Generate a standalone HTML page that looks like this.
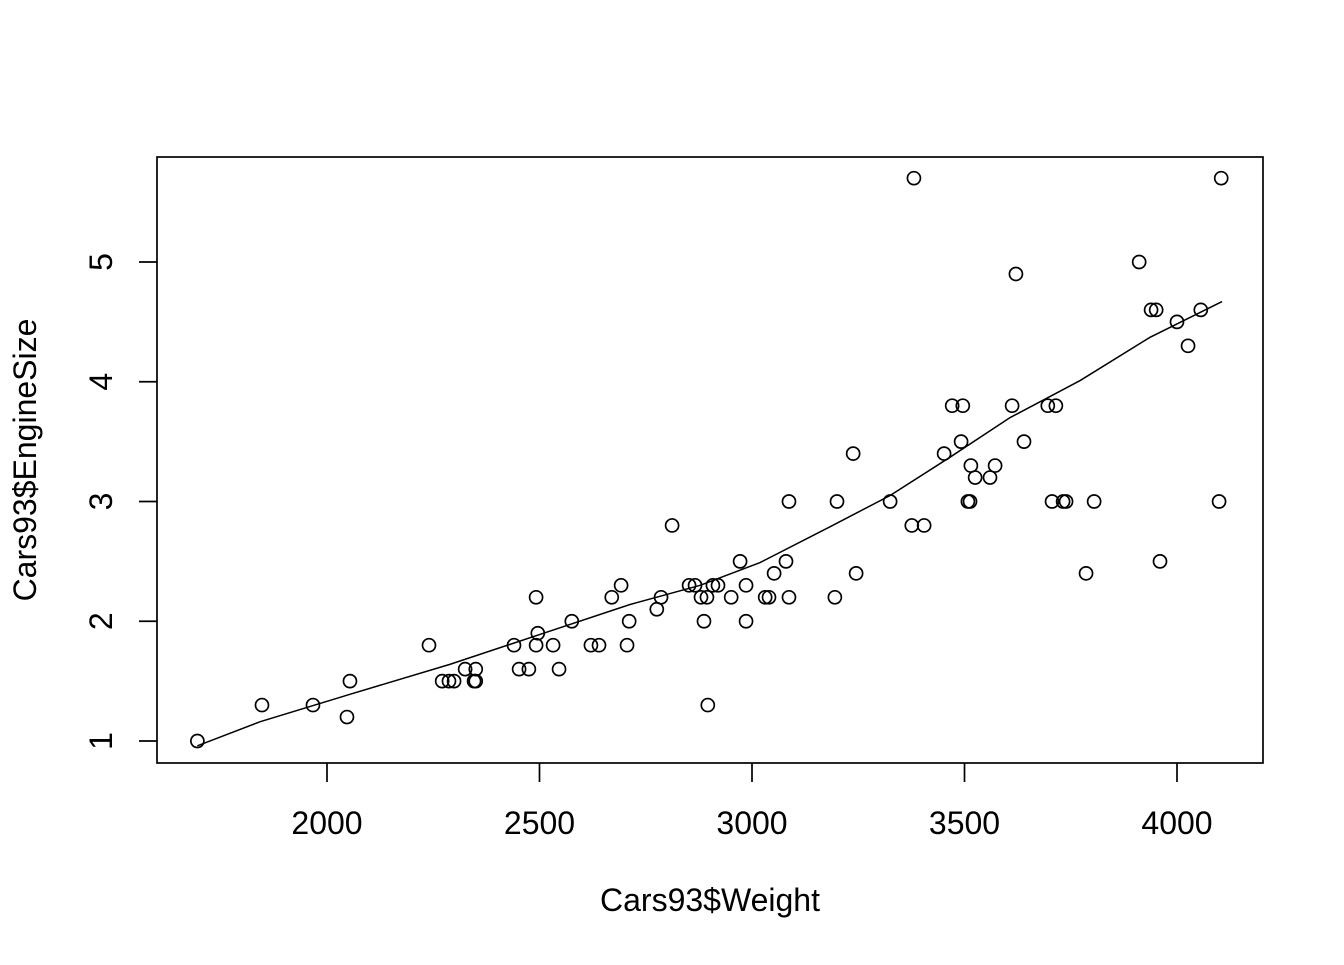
<!DOCTYPE html>
<html><head><meta charset="utf-8"><style>
html,body{margin:0;padding:0;background:#fff;}
svg text{font-family:"Liberation Sans",Arial,sans-serif;fill:#000;}
</style></head><body>
<svg id="chart" width="1344" height="960" viewBox="0 0 1344 960" xmlns="http://www.w3.org/2000/svg">
<rect x="0" y="0" width="1344" height="960" fill="#fff"/>
<g id="marks"></g>
<g id="axes"></g>
</svg>
<script>
const weights = [1695,1847,1967,2047,2054,2240,2271,2287,2299,2325,2346,2350,2350,2440,2452,2475,2492,2492,2496,2532,2546,2576,2621,2640,2670,2692,2706,2711,2776,2786,2812,2852,2866,2880,2887,2894,2896,2908,2920,2951,2972,2986,2986,3031,3040,3052,3080,3087,3087,3195,3200,3238,3245,3325,3376,3381,3405,3452,3471,3492,3496,3508,3513,3515,3525,3560,3572,3612,3621,3640,3696,3706,3715,3732,3739,3786,3805,3911,3939,3951,3960,4000,4026,4056,4099,4104];
const engineSizes = [1.0,1.3,1.3,1.2,1.5,1.8,1.5,1.5,1.5,1.6,1.5,1.5,1.6,1.8,1.6,1.6,2.2,1.8,1.9,1.8,1.6,2.0,1.8,1.8,2.2,2.3,1.8,2.0,2.1,2.2,2.8,2.3,2.3,2.2,2.0,2.2,1.3,2.3,2.3,2.2,2.5,2.3,2.0,2.2,2.2,2.4,2.5,3.0,2.2,2.2,3.0,3.4,2.4,3.0,2.8,5.7,2.8,3.4,3.8,3.5,3.8,3.0,3.0,3.3,3.2,3.2,3.3,3.8,4.9,3.5,3.8,3.0,3.8,3.0,3.0,2.4,3.0,5.0,4.6,4.6,2.5,4.5,4.3,4.6,3.0,5.7];
const fitWeights = [1695,1842,2054,2289,2501,2713,2878,3019,3184,3325,3466,3607,3772,3936,4106];
const fitEngine = [0.96,1.16,1.39,1.64,1.89,2.14,2.30,2.49,2.79,3.05,3.37,3.70,4.01,4.37,4.67];
const xTicks = [2000,2500,3000,3500,4000];
const yTicks = [1,2,3,4,5];

const NS="http://www.w3.org/2000/svg";
const xs = v => 327 + (v-2000)*0.425;
const ys = v => 741 - (v-1)*119.75;
const marks=document.getElementById('marks'), axes=document.getElementById('axes');
function mk(tag, attrs, parent){const e=document.createElementNS(NS,tag);for(const k in attrs)e.setAttribute(k,attrs[k]);parent.appendChild(e);return e;}

weights.forEach((w,i)=>{
  const c=mk('circle',{cx:xs(w),cy:ys(engineSizes[i]),r:6.5,fill:'none',stroke:'#000','stroke-width':1.7},marks);
  
  
});
const pl=mk('polyline',{points:fitWeights.map((w,i)=>xs(w)+','+ys(fitEngine[i])).join(' '),fill:'none',stroke:'#000','stroke-width':1.5},marks);



const box=mk('rect',{x:157,y:157,width:1106,height:606,fill:'none',stroke:'#000','stroke-width':1.7},axes);


xTicks.forEach(t=>{
  const l=mk('line',{x1:xs(t),x2:xs(t),y1:763,y2:782,stroke:'#000','stroke-width':1.7},axes);
  
  
  const tx=mk('text',{x:xs(t),y:834,'text-anchor':'middle','font-size':32},axes);
  tx.textContent=t;
  
  
});
yTicks.forEach(t=>{
  const l=mk('line',{x1:139,x2:157,y1:ys(t),y2:ys(t),stroke:'#000','stroke-width':1.7},axes);
  
  
  const tx=mk('text',{x:112,y:ys(t),'text-anchor':'middle','font-size':32,transform:'rotate(-90 112 '+ys(t)+')'},axes);
  tx.textContent=t;
  
  
});
const xt=mk('text',{x:710,y:911,'text-anchor':'middle','font-size':32},axes);
xt.textContent='Cars93$Weight';


const yt=mk('text',{x:36,y:460,'text-anchor':'middle','font-size':32,transform:'rotate(-90 36 460)'},axes);
yt.textContent='Cars93$EngineSize';


</script>
</body></html>
